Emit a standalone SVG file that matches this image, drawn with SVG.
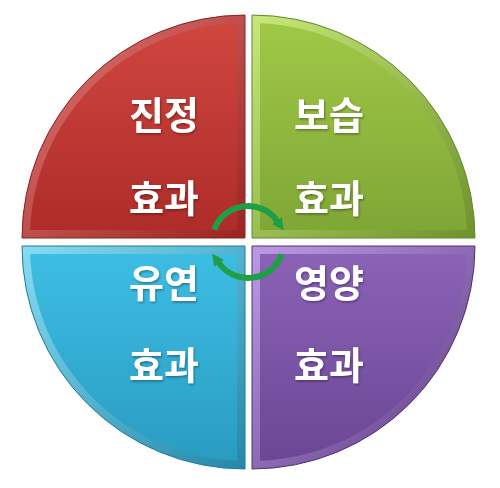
<svg xmlns="http://www.w3.org/2000/svg" width="500" height="488" viewBox="0 0 500 488">
<defs>
<linearGradient id="gRed" x1="0" y1="0" x2="0" y2="1"><stop offset="0" stop-color="#d0463f"/><stop offset="1" stop-color="#ae2c29"/></linearGradient>
<linearGradient id="gRedB" x1="0" y1="0" x2="1" y2="1"><stop offset="0" stop-color="#e37a76"/><stop offset="1" stop-color="#9a2422"/></linearGradient>
<linearGradient id="gGrn" x1="0" y1="0" x2="0" y2="1"><stop offset="0" stop-color="#a0c846"/><stop offset="1" stop-color="#80a636"/></linearGradient>
<linearGradient id="gGrnB" x1="0" y1="0" x2="1" y2="1"><stop offset="0" stop-color="#c8e87a"/><stop offset="1" stop-color="#6e922c"/></linearGradient>
<linearGradient id="gBlu" x1="0" y1="0" x2="0" y2="1"><stop offset="0" stop-color="#3dbde3"/><stop offset="1" stop-color="#2a9cc2"/></linearGradient>
<linearGradient id="gBluB" x1="0" y1="0" x2="1" y2="1"><stop offset="0" stop-color="#86dcf2"/><stop offset="1" stop-color="#2488aa"/></linearGradient>
<linearGradient id="gPur" x1="0" y1="0" x2="0" y2="1"><stop offset="0" stop-color="#8a62b6"/><stop offset="1" stop-color="#6c4795"/></linearGradient>
<linearGradient id="gPurB" x1="0" y1="0" x2="1" y2="1"><stop offset="0" stop-color="#bc9ae6"/><stop offset="1" stop-color="#5c3a82"/></linearGradient>
<marker id="ah" markerUnits="userSpaceOnUse" markerWidth="13" markerHeight="13" viewBox="0 0 13 13" refX="1" refY="6.5" orient="auto">
<path d="M0,0.5 L12,6.5 L0,12.5 Z" fill="#1f9e48"/>
</marker>
<filter id="ts" x="-10%" y="-10%" width="120%" height="130%"><feDropShadow dx="1" dy="1.5" stdDeviation="1" flood-color="#000" flood-opacity="0.35"/></filter>
</defs>
<style>
.lbl{font-family:"Noto Sans CJK KR","Noto Sans",sans-serif;font-weight:bold;font-size:38px;fill:#ffffff;text-anchor:middle;filter:url(#ts)}
.arc{fill:none;stroke:#1f9e48;stroke-width:6;marker-end:url(#ah)}
</style>
<rect width="500" height="488" fill="#ffffff"/>
<g id="q-red">
<path d="M245,238 L22,238 A223 223 0 0 1 245,15 Z" fill="url(#gRedB)" stroke="#8a2020" stroke-width="1"/>
<path d="M237,230 L30.15,230 A215 215 0 0 1 237,23.15 Z" fill="url(#gRed)"/>
<text class="lbl" x="164" y="129">진정</text>
<text class="lbl" x="164" y="212">효과</text>
</g>
<g id="q-green">
<path d="M252,238 L252,15 A223 223 0 0 1 475,238 Z" fill="url(#gGrnB)" stroke="#5f8a2a" stroke-width="1"/>
<path d="M260,230 L260,23.15 A215 215 0 0 1 466.85,230 Z" fill="url(#gGrn)"/>
<text class="lbl" x="329" y="129">보습</text>
<text class="lbl" x="329" y="212">효과</text>
</g>
<g id="q-blue">
<path d="M245,246 L245,469 A223 223 0 0 1 22,246 Z" fill="url(#gBluB)" stroke="#1f7a9a" stroke-width="1"/>
<path d="M237,254 L237,460.85 A215 215 0 0 1 30.15,254 Z" fill="url(#gBlu)"/>
<text class="lbl" x="164" y="297">유연</text>
<text class="lbl" x="164" y="379">효과</text>
</g>
<g id="q-purple">
<path d="M252,246 L475,246 A223 223 0 0 1 252,469 Z" fill="url(#gPurB)" stroke="#4e3270" stroke-width="1"/>
<path d="M260,254 L466.85,254 A215 215 0 0 1 260,460.85 Z" fill="url(#gPur)"/>
<text class="lbl" x="329" y="297">영양</text>
<text class="lbl" x="329" y="379">효과</text>
</g>
<g id="connectors">
<path class="arc" d="M214.2,229.7 A36 36 0 0 1 277.5,221.4"/>
<path class="arc" d="M281.8,254.3 A36 36 0 0 1 218.5,262.6"/>
</g>
</svg>
